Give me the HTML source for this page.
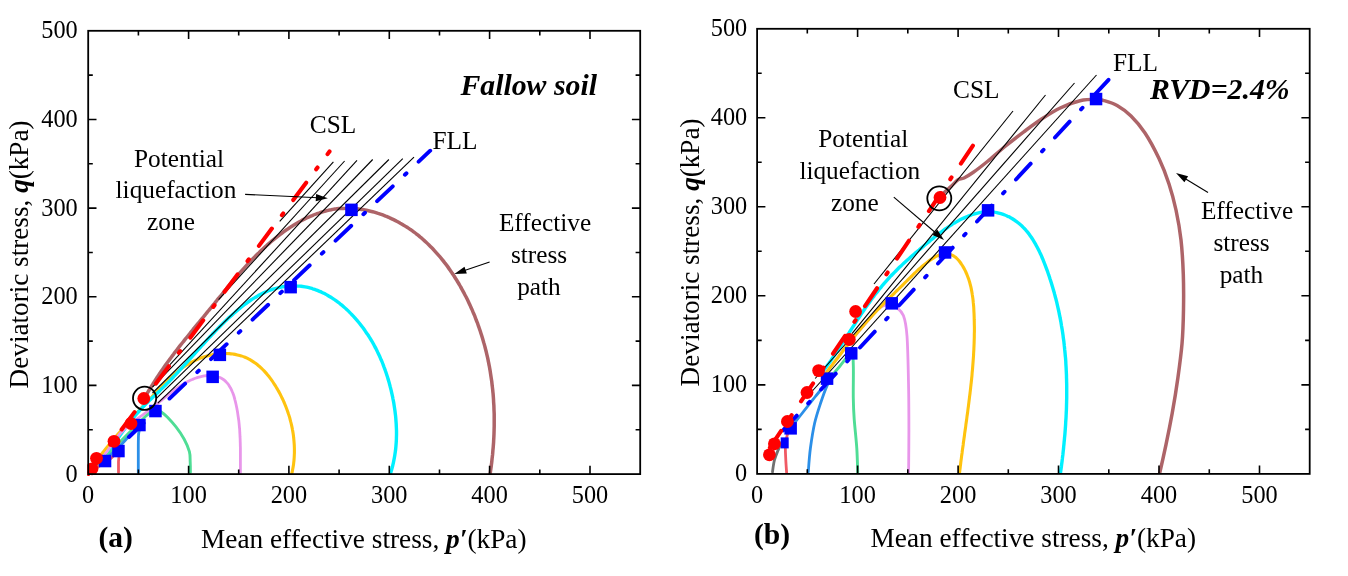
<!DOCTYPE html>
<html><head><meta charset="utf-8"><title>chart</title>
<style>html,body{margin:0;padding:0;background:#fff}svg{display:block;will-change:transform;font-family:"Liberation Serif",serif;fill:#000}</style>
</head><body>
<svg width="1348" height="576" viewBox="0 0 1348 576">
<rect width="1348" height="576" fill="#fff"/>
<defs><clipPath id="cl"><rect x="88.2" y="30.8" width="552" height="443.3"/></clipPath><clipPath id="cl2"><rect x="87.3" y="30.8" width="553" height="445.3"/></clipPath><clipPath id="cr"><rect x="757.1" y="28.75" width="552.6" height="445.15"/></clipPath></defs>
<g clip-path="url(#cl)">
<path d="M490.0,474.7C490.1,474.0 490.4,472.0 490.6,470.6C490.8,469.3 491.0,467.9 491.2,466.6C491.3,465.2 491.5,463.9 491.7,462.5C491.8,461.1 492.0,459.8 492.1,458.4C492.3,457.1 492.4,455.7 492.6,454.4C492.7,453.0 492.8,451.6 492.9,450.3C493.1,448.9 493.2,447.6 493.3,446.2C493.4,444.9 493.5,443.5 493.6,442.1C493.6,440.8 493.7,439.4 493.8,438.1C493.9,436.7 493.9,435.4 494.0,434.0C494.0,432.7 494.1,431.3 494.1,430.0C494.1,428.6 494.2,427.3 494.2,425.9C494.2,424.6 494.2,423.2 494.2,421.9C494.2,420.5 494.2,419.2 494.2,417.8C494.2,416.5 494.2,415.2 494.2,413.8C494.1,412.5 494.1,411.1 494.0,409.8C494.0,408.5 493.9,407.1 493.9,405.8C493.8,404.4 493.7,403.1 493.6,401.8C493.6,400.4 493.5,399.1 493.4,397.8C493.3,396.4 493.2,395.1 493.1,393.8C492.9,392.4 492.8,391.1 492.7,389.8C492.5,388.4 492.4,387.1 492.2,385.8C492.1,384.5 491.9,383.2 491.8,381.8C491.6,380.5 491.4,379.2 491.2,377.9C491.0,376.6 490.8,375.2 490.6,373.9C490.4,372.6 490.2,371.3 490.0,370.0C489.7,368.7 489.5,367.4 489.3,366.1C489.0,364.8 488.8,363.4 488.5,362.1C488.2,360.8 488.0,359.5 487.7,358.2C487.4,356.9 487.1,355.6 486.8,354.4C486.5,353.1 486.2,351.8 485.9,350.5C485.5,349.2 485.2,347.9 484.9,346.6C484.5,345.3 484.2,344.0 483.8,342.8C483.4,341.5 483.1,340.2 482.7,338.9C482.3,337.7 481.9,336.4 481.5,335.1C481.1,333.8 480.7,332.6 480.3,331.3C479.9,330.0 479.4,328.8 479.0,327.5C478.6,326.3 478.1,325.0 477.7,323.7C477.2,322.5 476.7,321.2 476.2,320.0C475.8,318.7 475.3,317.5 474.8,316.2C474.3,315.0 473.8,313.8 473.2,312.5C472.7,311.3 472.2,310.0 471.6,308.8C471.1,307.6 470.5,306.3 470.0,305.1C469.4,303.9 468.8,302.7 468.3,301.5C467.7,300.2 467.1,299.0 466.5,297.8C465.9,296.6 465.2,295.4 464.6,294.2C464.0,293.0 463.3,291.8 462.7,290.6C462.0,289.4 461.4,288.2 460.7,287.0C460.0,285.8 459.4,284.7 458.7,283.5C458.0,282.3 457.3,281.1 456.6,280.0C455.8,278.8 455.1,277.7 454.4,276.5C453.7,275.4 452.9,274.2 452.1,273.1C451.4,272.0 450.6,270.9 449.8,269.8C449.1,268.6 448.3,267.5 447.5,266.4C446.7,265.3 445.9,264.3 445.0,263.2C444.2,262.1 443.4,261.0 442.5,260.0C441.7,258.9 440.8,257.9 440.0,256.8C439.1,255.8 438.2,254.8 437.3,253.8C436.4,252.8 435.5,251.8 434.6,250.8C433.7,249.8 432.8,248.8 431.8,247.8C430.9,246.9 429.9,245.9 429.0,245.0C428.0,244.0 427.1,243.1 426.1,242.2C425.1,241.3 424.1,240.4 423.1,239.5C422.1,238.6 421.1,237.7 420.0,236.9C419.0,236.0 418.0,235.2 416.9,234.3C415.9,233.5 414.8,232.7 413.7,231.9C412.7,231.1 411.6,230.3 410.5,229.6C409.4,228.8 408.3,228.1 407.1,227.3C406.0,226.6 404.9,225.9 403.7,225.2C402.6,224.5 401.4,223.8 400.3,223.2C399.1,222.5 397.9,221.8 396.7,221.2C395.5,220.6 394.3,220.0 393.1,219.4C391.9,218.8 390.7,218.3 389.5,217.7C388.2,217.2 387.0,216.6 385.7,216.1C384.5,215.6 383.2,215.2 382.0,214.7C380.7,214.2 379.4,213.8 378.1,213.4C376.9,213.0 375.6,212.6 374.3,212.2C373.0,211.8 371.7,211.5 370.4,211.2C369.1,210.9 367.8,210.6 366.5,210.3C365.2,210.0 363.9,209.8 362.6,209.6C361.2,209.3 359.9,209.2 358.6,209.0C357.3,208.8 356.0,208.7 354.7,208.6C353.3,208.5 352.0,208.4 350.7,208.3C349.4,208.3 348.1,208.2 346.8,208.3C345.4,208.3 344.1,208.3 342.8,208.4C341.5,208.4 340.2,208.5 338.9,208.6C337.6,208.8 336.3,208.9 335.0,209.1C333.7,209.3 332.4,209.5 331.1,209.8C329.8,210.0 328.5,210.3 327.2,210.6C326.0,210.9 324.7,211.2 323.4,211.6C322.2,212.0 320.9,212.3 319.6,212.8C318.4,213.2 317.1,213.6 315.9,214.1C314.6,214.5 313.4,215.0 312.2,215.6C310.9,216.1 309.7,216.6 308.5,217.2C307.3,217.7 306.0,218.3 304.8,218.9C303.6,219.5 302.4,220.1 301.2,220.8C300.0,221.4 298.9,222.1 297.7,222.7C296.5,223.4 295.3,224.1 294.2,224.8C293.0,225.5 291.8,226.3 290.7,227.0C289.5,227.7 288.4,228.5 287.3,229.3C286.1,230.0 285.0,230.8 283.9,231.6C282.8,232.4 281.7,233.2 280.6,234.1C279.5,234.9 278.4,235.7 277.3,236.6C276.3,237.4 275.2,238.3 274.2,239.1C273.1,240.0 272.0,240.9 271.0,241.7C270.0,242.6 268.9,243.5 267.9,244.4C266.9,245.3 265.9,246.2 264.9,247.1C263.9,248.0 262.9,248.9 261.9,249.9C260.9,250.8 260.0,251.7 259.0,252.7C258.0,253.6 257.1,254.6 256.1,255.5C255.2,256.5 254.2,257.4 253.3,258.4C252.3,259.3 251.4,260.3 250.5,261.3C249.5,262.3 248.6,263.2 247.7,264.2C246.8,265.2 245.9,266.2 245.0,267.2C244.1,268.2 243.2,269.2 242.3,270.2C241.4,271.2 240.5,272.2 239.6,273.2C238.7,274.2 237.8,275.2 237.0,276.2C236.1,277.2 235.2,278.3 234.3,279.3C233.5,280.3 232.6,281.3 231.7,282.4C230.9,283.4 230.0,284.4 229.2,285.5C228.3,286.5 227.4,287.5 226.6,288.6C225.7,289.6 224.9,290.6 224.0,291.7C223.2,292.7 222.3,293.7 221.5,294.8C220.6,295.8 219.8,296.9 218.9,297.9C218.1,298.9 217.2,300.0 216.4,301.0C215.6,302.1 214.7,303.1 213.9,304.1C213.0,305.2 212.2,306.2 211.3,307.3C210.5,308.3 209.6,309.3 208.8,310.4C207.9,311.4 207.1,312.5 206.2,313.5C205.4,314.5 204.5,315.6 203.7,316.6C202.8,317.6 201.9,318.7 201.1,319.7C200.2,320.7 199.4,321.8 198.5,322.8C197.7,323.8 196.8,324.9 196.0,325.9C195.1,327.0 194.3,328.0 193.4,329.0C192.6,330.1 191.8,331.1 190.9,332.2C190.1,333.2 189.2,334.2 188.4,335.3C187.5,336.3 186.7,337.4 185.9,338.4C185.0,339.5 184.2,340.5 183.4,341.6C182.5,342.6 181.7,343.7 180.9,344.7C180.0,345.8 179.2,346.8 178.4,347.9C177.6,348.9 176.8,350.0 175.9,351.1C175.1,352.1 174.3,353.2 173.5,354.3C172.7,355.3 171.9,356.4 171.1,357.5C170.3,358.6 169.5,359.6 168.7,360.7C167.9,361.8 167.1,362.9 166.3,364.0C165.6,365.1 164.8,366.2 164.0,367.3C163.2,368.4 162.5,369.5 161.7,370.6C160.9,371.7 160.2,372.8 159.4,373.9C158.7,375.0 157.9,376.1 157.2,377.3C156.5,378.4 155.7,379.5 155.0,380.6C154.3,381.8 153.5,382.9 152.8,384.1C152.1,385.2 151.4,386.4 150.7,387.5C150.0,388.7 149.3,389.8 148.6,391.0C147.9,392.2 147.2,393.3 146.6,394.5C145.9,395.7 144.9,397.5 144.6,398.1" fill="none" stroke="#AD6468" stroke-width="3.5" stroke-linecap="round" stroke-linejoin="round" />
<path d="M291.9,473.2C292.1,472.5 292.5,470.6 292.7,469.3C293.0,467.9 293.2,466.6 293.4,465.3C293.6,464.0 293.7,462.6 293.9,461.3C294.0,460.0 294.1,458.7 294.2,457.3C294.3,456.0 294.3,454.7 294.4,453.3C294.4,452.0 294.4,450.6 294.4,449.3C294.4,448.0 294.3,446.6 294.3,445.3C294.2,444.0 294.1,442.6 294.0,441.3C293.9,439.9 293.8,438.6 293.6,437.3C293.5,435.9 293.3,434.6 293.1,433.3C292.9,431.9 292.7,430.6 292.4,429.3C292.2,428.0 291.9,426.6 291.6,425.3C291.3,424.0 291.0,422.7 290.6,421.4C290.3,420.1 289.9,418.7 289.6,417.4C289.2,416.1 288.8,414.8 288.3,413.5C287.9,412.2 287.5,411.0 287.0,409.7C286.5,408.4 286.0,407.1 285.5,405.8C285.0,404.6 284.5,403.3 283.9,402.0C283.4,400.8 282.8,399.5 282.2,398.3C281.6,397.0 281.0,395.8 280.4,394.6C279.7,393.4 279.1,392.1 278.4,390.9C277.7,389.7 277.1,388.5 276.3,387.3C275.6,386.1 274.9,385.0 274.1,383.8C273.4,382.7 272.6,381.5 271.8,380.4C271.0,379.3 270.2,378.2 269.4,377.1C268.5,376.0 267.7,375.0 266.8,373.9C265.9,372.9 265.0,371.9 264.1,370.9C263.2,370.0 262.2,369.0 261.3,368.1C260.3,367.2 259.3,366.3 258.3,365.5C257.3,364.6 256.2,363.8 255.2,363.1C254.1,362.3 253.0,361.6 251.9,360.9C250.8,360.2 249.7,359.5 248.5,358.9C247.4,358.3 246.2,357.8 245.0,357.3C243.8,356.8 242.5,356.3 241.3,355.9C240.0,355.5 238.7,355.2 237.4,354.9C236.1,354.6 234.8,354.3 233.5,354.1C232.1,353.9 230.8,353.7 229.5,353.6C228.1,353.5 226.7,353.5 225.4,353.5C224.0,353.4 222.7,353.5 221.3,353.5C219.9,353.6 218.6,353.7 217.2,353.9C215.9,354.1 214.5,354.3 213.2,354.5C211.8,354.8 210.5,355.1 209.2,355.4C207.9,355.7 206.6,356.1 205.2,356.5C203.9,356.9 202.6,357.3 201.4,357.8C200.1,358.3 198.8,358.8 197.6,359.3C196.3,359.9 195.1,360.5 193.8,361.1C192.6,361.7 191.4,362.3 190.2,363.0C189.0,363.6 187.8,364.3 186.7,365.0C185.5,365.8 184.4,366.5 183.2,367.3C182.1,368.0 181.0,368.8 179.9,369.6C178.8,370.5 177.8,371.3 176.7,372.2C175.7,373.0 174.7,373.9 173.7,374.8C172.7,375.7 171.7,376.6 170.7,377.5C169.7,378.4 168.7,379.3 167.8,380.3C166.8,381.2 165.9,382.2 164.9,383.1C164.0,384.1 163.1,385.0 162.1,386.0C161.2,387.0 160.3,388.0 159.4,388.9C158.4,389.9 157.5,390.9 156.6,391.9C155.7,392.9 154.7,393.8 153.8,394.8C152.9,395.8 152.0,396.8 151.0,397.8C150.1,398.7 149.2,399.7 148.3,400.7C147.4,401.7 146.4,402.7 145.5,403.7C144.6,404.7 143.7,405.6 142.7,406.6C141.8,407.6 140.9,408.6 140.0,409.6C139.1,410.6 138.2,411.6 137.2,412.6C136.3,413.6 135.4,414.6 134.5,415.6C133.6,416.6 132.7,417.6 131.8,418.6C130.9,419.6 130.0,420.6 129.1,421.6C128.1,422.6 127.2,423.6 126.3,424.6C125.4,425.6 124.6,426.6 123.7,427.6C122.8,428.6 121.9,429.7 121.0,430.7C120.1,431.7 119.2,432.7 118.3,433.7C117.4,434.8 116.6,435.8 115.7,436.8C114.8,437.9 113.9,438.9 113.1,439.9C112.2,441.0 111.3,442.0 110.5,443.0C109.6,444.1 108.8,445.1 107.9,446.2C107.1,447.2 106.2,448.3 105.4,449.3C104.5,450.4 103.7,451.4 102.8,452.5C102.0,453.6 101.2,454.6 100.3,455.7C99.5,456.8 98.7,457.8 97.9,458.9C97.1,460.0 96.3,461.1 95.5,462.2C94.6,463.2 93.8,464.3 93.1,465.4C92.3,466.5 91.5,467.6 90.7,468.7C89.9,469.8 88.7,471.5 88.4,472.0" fill="none" stroke="#FFC30F" stroke-width="3.1" stroke-linecap="round" stroke-linejoin="round" />
<path d="M390.2,474.5C390.4,473.9 391.0,471.9 391.4,470.6C391.8,469.2 392.1,467.9 392.5,466.6C392.8,465.2 393.1,463.9 393.4,462.6C393.7,461.2 394.0,459.9 394.2,458.6C394.5,457.3 394.7,455.9 394.9,454.6C395.1,453.2 395.3,451.9 395.5,450.6C395.6,449.2 395.8,447.9 395.9,446.6C396.0,445.2 396.1,443.9 396.2,442.6C396.3,441.2 396.4,439.9 396.4,438.5C396.4,437.2 396.5,435.9 396.5,434.5C396.5,433.2 396.5,431.9 396.5,430.5C396.4,429.2 396.4,427.9 396.3,426.5C396.3,425.2 396.2,423.8 396.1,422.5C396.0,421.2 395.9,419.8 395.8,418.5C395.7,417.2 395.6,415.8 395.4,414.5C395.2,413.2 395.1,411.8 394.9,410.5C394.7,409.2 394.5,407.8 394.3,406.5C394.1,405.2 393.9,403.9 393.7,402.5C393.4,401.2 393.2,399.9 392.9,398.6C392.7,397.2 392.4,395.9 392.1,394.6C391.8,393.3 391.5,391.9 391.2,390.6C390.9,389.3 390.6,388.0 390.2,386.7C389.9,385.4 389.5,384.1 389.2,382.8C388.8,381.5 388.4,380.1 388.0,378.9C387.7,377.6 387.2,376.3 386.8,375.0C386.4,373.7 386.0,372.4 385.5,371.1C385.1,369.8 384.6,368.6 384.1,367.3C383.7,366.0 383.2,364.8 382.7,363.5C382.2,362.2 381.7,361.0 381.1,359.8C380.6,358.5 380.1,357.3 379.5,356.0C378.9,354.8 378.4,353.6 377.8,352.4C377.2,351.1 376.6,349.9 376.0,348.7C375.3,347.5 374.7,346.3 374.1,345.2C373.4,344.0 372.7,342.8 372.1,341.6C371.4,340.5 370.7,339.3 370.0,338.1C369.3,337.0 368.5,335.9 367.8,334.7C367.1,333.6 366.3,332.5 365.5,331.4C364.8,330.3 364.0,329.2 363.2,328.1C362.4,327.0 361.6,325.9 360.7,324.8C359.9,323.8 359.0,322.7 358.2,321.7C357.3,320.6 356.4,319.6 355.5,318.6C354.6,317.6 353.7,316.5 352.8,315.6C351.8,314.6 350.9,313.6 349.9,312.6C349.0,311.7 348.0,310.7 347.0,309.8C346.0,308.8 345.0,307.9 343.9,307.0C342.9,306.1 341.9,305.2 340.8,304.4C339.8,303.5 338.7,302.7 337.6,301.9C336.5,301.1 335.4,300.3 334.3,299.5C333.2,298.7 332.0,298.0 330.9,297.3C329.8,296.6 328.6,295.9 327.4,295.2C326.3,294.6 325.1,293.9 323.9,293.3C322.7,292.7 321.5,292.2 320.3,291.6C319.1,291.1 317.8,290.6 316.6,290.1C315.3,289.7 314.1,289.2 312.8,288.8C311.6,288.4 310.3,288.1 309.0,287.7C307.7,287.4 306.4,287.1 305.1,286.9C303.8,286.7 302.5,286.5 301.1,286.3C299.8,286.2 298.5,286.0 297.1,286.0C295.8,285.9 294.4,285.9 293.0,285.9C291.7,285.9 290.3,286.0 289.0,286.1C287.6,286.2 286.2,286.3 284.9,286.5C283.5,286.7 282.2,286.9 280.9,287.2C279.5,287.4 278.2,287.7 276.9,288.1C275.6,288.4 274.3,288.8 273.0,289.2C271.7,289.6 270.5,290.0 269.2,290.5C268.0,291.0 266.7,291.5 265.5,292.0C264.3,292.6 263.0,293.1 261.8,293.7C260.6,294.3 259.4,295.0 258.3,295.6C257.1,296.3 255.9,296.9 254.8,297.6C253.6,298.3 252.5,299.1 251.3,299.8C250.2,300.5 249.1,301.3 248.0,302.1C246.9,302.9 245.8,303.7 244.7,304.5C243.6,305.3 242.5,306.1 241.4,307.0C240.4,307.8 239.3,308.7 238.3,309.6C237.2,310.4 236.2,311.3 235.2,312.2C234.1,313.1 233.1,314.0 232.1,314.9C231.1,315.8 230.1,316.7 229.1,317.6C228.1,318.5 227.1,319.5 226.1,320.4C225.2,321.3 224.2,322.3 223.2,323.2C222.3,324.1 221.3,325.1 220.4,326.0C219.4,327.0 218.5,327.9 217.5,328.9C216.6,329.9 215.7,330.8 214.7,331.8C213.8,332.8 212.9,333.7 212.0,334.7C211.0,335.7 210.1,336.7 209.2,337.6C208.3,338.6 207.4,339.6 206.5,340.6C205.6,341.6 204.7,342.6 203.8,343.6C202.9,344.6 201.9,345.6 201.0,346.6C200.1,347.6 199.2,348.6 198.3,349.6C197.4,350.6 196.5,351.6 195.6,352.6C194.7,353.6 193.8,354.6 192.9,355.6C192.0,356.6 191.1,357.6 190.2,358.6C189.3,359.6 188.4,360.6 187.5,361.6C186.6,362.6 185.7,363.6 184.8,364.6C183.9,365.6 183.0,366.6 182.1,367.6C181.2,368.6 180.3,369.6 179.3,370.6C178.4,371.6 177.5,372.6 176.6,373.6C175.7,374.6 174.8,375.6 173.8,376.5C172.9,377.5 172.0,378.5 171.0,379.5C170.1,380.4 169.2,381.4 168.2,382.4C167.3,383.3 166.3,384.3 165.4,385.2C164.4,386.2 163.5,387.1 162.5,388.1C161.5,389.0 160.6,389.9 159.6,390.9C158.6,391.8 157.6,392.7 156.7,393.6C155.7,394.6 154.7,395.5 153.7,396.4C152.8,397.3 151.8,398.2 150.8,399.2C149.8,400.1 148.9,401.0 147.9,402.0C147.0,402.9 146.0,403.9 145.1,404.8C144.1,405.8 143.2,406.7 142.3,407.7C141.3,408.7 140.4,409.7 139.5,410.7C138.6,411.6 137.7,412.7 136.9,413.7C136.0,414.7 135.1,415.7 134.3,416.7C133.4,417.8 132.6,418.8 131.7,419.9C130.9,420.9 130.0,422.0 129.2,423.0C128.4,424.1 127.6,425.1 126.8,426.2C125.9,427.3 125.1,428.4 124.3,429.5C123.5,430.5 122.7,431.6 121.9,432.7C121.2,433.8 120.4,434.9 119.6,436.0C118.8,437.1 118.0,438.2 117.2,439.3C116.4,440.4 115.7,441.5 114.9,442.6C114.1,443.7 113.3,444.9 112.6,446.0C111.8,447.1 111.0,448.2 110.2,449.3C109.4,450.4 108.7,451.5 107.9,452.6C107.1,453.7 106.3,454.8 105.5,455.9C104.7,457.0 103.9,458.1 103.1,459.2C102.3,460.3 101.5,461.4 100.7,462.4C99.9,463.5 99.1,464.6 98.3,465.6C97.5,466.7 96.6,467.8 95.8,468.8C95.0,469.9 93.7,471.4 93.3,472.0" fill="none" stroke="#00F0FF" stroke-width="3.4" stroke-linecap="round" stroke-linejoin="round" />
<path d="M240.4,473.2C240.4,472.5 240.4,470.4 240.4,469.0C240.4,467.6 240.4,466.2 240.4,464.9C240.4,463.5 240.4,462.1 240.4,460.8C240.4,459.4 240.4,458.0 240.4,456.7C240.4,455.3 240.4,454.0 240.4,452.7C240.4,451.3 240.4,450.0 240.4,448.6C240.4,447.3 240.3,446.0 240.3,444.6C240.3,443.3 240.2,442.0 240.2,440.7C240.2,439.3 240.1,438.0 240.0,436.7C240.0,435.4 239.9,434.0 239.8,432.7C239.8,431.4 239.7,430.1 239.6,428.7C239.4,427.4 239.3,426.1 239.2,424.7C239.1,423.4 238.9,422.0 238.8,420.7C238.6,419.4 238.4,418.0 238.2,416.7C238.0,415.3 237.8,413.9 237.6,412.6C237.4,411.2 237.1,409.8 236.9,408.5C236.6,407.1 236.3,405.7 236.0,404.3C235.7,402.9 235.4,401.5 235.0,400.1C234.7,398.7 234.3,397.4 233.9,396.0C233.4,394.7 233.0,393.3 232.4,392.0C231.9,390.8 231.4,389.5 230.7,388.3C230.1,387.1 229.4,386.0 228.7,384.9C227.9,383.9 227.1,382.9 226.2,382.0C225.4,381.1 224.4,380.2 223.4,379.5C222.3,378.8 221.2,378.2 220.0,377.6C218.9,377.1 217.6,376.7 216.4,376.3C215.1,376.0 213.8,375.8 212.4,375.7C211.1,375.5 209.8,375.5 208.4,375.5C207.0,375.6 205.7,375.7 204.3,375.9C202.9,376.2 201.5,376.5 200.2,376.8C198.8,377.1 197.4,377.6 196.1,378.0C194.8,378.4 193.4,379.0 192.2,379.5C190.9,380.0 189.6,380.6 188.4,381.2C187.2,381.8 186.0,382.4 184.8,383.1C183.6,383.8 182.4,384.5 181.3,385.2C180.1,385.9 179.0,386.6 177.9,387.4C176.8,388.1 175.7,388.9 174.6,389.7C173.6,390.5 172.5,391.3 171.4,392.2C170.4,393.0 169.3,393.8 168.3,394.7C167.2,395.5 166.2,396.4 165.2,397.2C164.1,398.1 163.1,399.0 162.1,399.8C161.0,400.7 160.0,401.6 159.0,402.4C157.9,403.3 156.9,404.2 155.9,405.0C154.8,405.9 153.8,406.7 152.7,407.6C151.6,408.4 150.5,409.3 149.5,410.1C148.4,410.9 147.3,411.7 146.2,412.5C145.1,413.3 143.9,414.1 142.8,414.9C141.7,415.6 140.6,416.4 139.5,417.2C138.3,418.0 137.2,418.8 136.1,419.6C135.0,420.4 133.9,421.2 132.8,422.0C131.8,422.8 130.7,423.7 129.6,424.5C128.6,425.4 127.6,426.2 126.6,427.1C125.6,428.0 124.6,428.9 123.6,429.9C122.7,430.8 121.8,431.8 120.9,432.8C120.0,433.8 119.1,434.8 118.3,435.9C117.4,436.9 116.6,438.0 115.8,439.1C115.0,440.2 114.2,441.3 113.4,442.4C112.6,443.5 111.8,444.6 111.0,445.7C110.3,446.8 109.5,447.9 108.7,449.1C107.9,450.2 107.2,451.3 106.4,452.4C105.6,453.5 104.8,454.6 104.0,455.7C103.2,456.9 102.4,458.0 101.6,459.1C100.8,460.2 100.0,461.3 99.2,462.3C98.4,463.4 97.6,464.5 96.8,465.6C96.0,466.7 95.1,467.7 94.3,468.8C93.5,469.9 92.2,471.4 91.8,472.0" fill="none" stroke="#E896EA" stroke-width="2.8" stroke-linecap="round" stroke-linejoin="round" />
<path d="M190.4,472.5C190.4,470.8 190.4,465.5 190.2,462.0C190.0,458.5 190.4,455.5 189.4,451.7C188.4,447.9 186.5,443.4 184.2,439.2C181.9,435.0 178.6,430.3 175.8,426.7C173.0,423.1 169.9,419.8 167.5,417.3C165.1,414.9 163.3,413.2 161.3,412.0C159.3,410.8 158.0,409.3 155.4,410.0C152.8,410.7 149.6,413.0 146.0,416.0C142.4,419.0 138.3,423.7 134.0,428.0C129.7,432.3 124.7,437.2 120.0,442.0C115.3,446.8 110.3,452.7 106.0,457.0C101.7,461.3 96.0,466.2 94.0,468.0" fill="none" stroke="#4FDD95" stroke-width="2.9" stroke-linecap="round" stroke-linejoin="round" />
<path d="M138.3,472.5C138.3,468.8 138.3,456.2 138.3,450.0C138.3,443.8 138.3,439.0 138.5,435.0C138.7,431.0 140.6,426.3 139.5,426.0C138.4,425.7 135.6,429.3 132.0,433.0C128.4,436.7 123.0,443.2 118.0,448.0C113.0,452.8 104.7,459.7 102.0,462.0" fill="none" stroke="#2B8FE8" stroke-width="2.8" stroke-linecap="round" stroke-linejoin="round" />
<path d="M118.5,472.5C118.5,470.8 118.5,465.4 118.5,462.0C118.5,458.6 120.1,452.5 118.7,452.0C117.3,451.5 113.5,456.5 110.0,459.0C106.5,461.5 100.0,465.7 98.0,467.0" fill="none" stroke="#F05A64" stroke-width="2.8" stroke-linecap="round" stroke-linejoin="round" />
</g>
<path d="M333.4,161.9L279.7,221.3" stroke="#000" stroke-width="1.1" fill="none"/>
<path d="M344.6,161.0L218.6,299.7" stroke="#000" stroke-width="1.1" fill="none"/>
<path d="M357.0,160.4L170.0,364.7" stroke="#000" stroke-width="1.1" fill="none"/>
<path d="M372.7,159.5L152.5,387.2" stroke="#000" stroke-width="1.1" fill="none"/>
<path d="M388.9,159.5L152.5,393.0" stroke="#000" stroke-width="1.1" fill="none"/>
<path d="M402.8,158.6L156.4,398.3" stroke="#000" stroke-width="1.1" fill="none"/>
<path d="M414.0,157.2L157.8,403.2" stroke="#000" stroke-width="1.1" fill="none"/>
<g clip-path="url(#cl2)">
<path d="M88.2,474.1L329.5,151.5" stroke="#FF0000" stroke-width="4.1" stroke-linecap="round" fill="none" stroke-dasharray="21.60 16.75 2.2 16.75" stroke-dashoffset="1.50"/>
</g>
<path d="M129.0,437.0L430.2,150.7" stroke="#0000FF" stroke-width="3.9" stroke-linecap="round" fill="none" stroke-dasharray="21.60 16.75 2.2 16.75" stroke-dashoffset="1.50"/>
<rect x="345.2" y="203.6" width="12.5" height="12.5" fill="#0000FF"/>
<rect x="284.4" y="280.9" width="12.5" height="12.5" fill="#0000FF"/>
<rect x="213.6" y="348.6" width="12.5" height="12.5" fill="#0000FF"/>
<rect x="206.4" y="370.6" width="12.5" height="12.5" fill="#0000FF"/>
<rect x="149.2" y="404.8" width="12.5" height="12.5" fill="#0000FF"/>
<rect x="133.2" y="418.8" width="12.5" height="12.5" fill="#0000FF"/>
<rect x="112.2" y="444.8" width="12.5" height="12.5" fill="#0000FF"/>
<rect x="98.8" y="454.8" width="12.5" height="12.5" fill="#0000FF"/>
<circle cx="143.8" cy="398.5" r="6.4" fill="#FF0000"/>
<circle cx="131.0" cy="423.5" r="6.4" fill="#FF0000"/>
<circle cx="114.0" cy="441.3" r="6.4" fill="#FF0000"/>
<circle cx="96.5" cy="458.3" r="6.4" fill="#FF0000"/>
<g clip-path="url(#cl2)"><circle cx="92" cy="468.8" r="6.4" fill="#FF0000"/></g>
<circle cx="144.6" cy="398.3" r="11.6" fill="none" stroke="#000" stroke-width="1.8"/>
<path d="M245.1,194.4L317.9,197.8" stroke="#000" stroke-width="1.1" fill="none"/>
<path d="M327.9,198.3L315.7,201.3L316.1,194.1Z" fill="#000"/>
<path d="M489.6,261.9L463.8,270.8" stroke="#000" stroke-width="1.1" fill="none"/>
<path d="M454.3,274.0L464.5,266.7L466.8,273.5Z" fill="#000"/>
<rect x="88.2" y="30.8" width="552.0" height="443.3" fill="none" stroke="#000" stroke-width="1.8"/>
<path d="M138.4,474.1v-4.6M138.4,30.8v4.6M188.6,474.1v-8.3M188.6,30.8v8.3M238.7,474.1v-4.6M238.7,30.8v4.6M288.9,474.1v-8.3M288.9,30.8v8.3M339.1,474.1v-4.6M339.1,30.8v4.6M389.3,474.1v-8.3M389.3,30.8v8.3M439.5,474.1v-4.6M439.5,30.8v4.6M489.6,474.1v-8.3M489.6,30.8v8.3M539.8,474.1v-4.6M539.8,30.8v4.6M590.0,474.1v-8.3M590.0,30.8v8.3M88.2,429.8h4.6M640.2,429.8h-4.6M88.2,385.4h8.3M640.2,385.4h-8.3M88.2,341.1h4.6M640.2,341.1h-4.6M88.2,296.8h8.3M640.2,296.8h-8.3M88.2,252.5h4.6M640.2,252.5h-4.6M88.2,208.1h8.3M640.2,208.1h-8.3M88.2,163.8h4.6M640.2,163.8h-4.6M88.2,119.5h8.3M640.2,119.5h-8.3M88.2,75.1h4.6M640.2,75.1h-4.6" stroke="#000" stroke-width="1.6" fill="none"/>
<text x="88.2" y="503.2" text-anchor="middle" font-size="24.3">0</text>
<text x="77.7" y="481.6" text-anchor="end" font-size="24.3">0</text>
<text x="188.6" y="503.2" text-anchor="middle" font-size="24.3">100</text>
<text x="77.7" y="392.9" text-anchor="end" font-size="24.3">100</text>
<text x="288.9" y="503.2" text-anchor="middle" font-size="24.3">200</text>
<text x="77.7" y="304.3" text-anchor="end" font-size="24.3">200</text>
<text x="389.3" y="503.2" text-anchor="middle" font-size="24.3">300</text>
<text x="77.7" y="215.6" text-anchor="end" font-size="24.3">300</text>
<text x="489.6" y="503.2" text-anchor="middle" font-size="24.3">400</text>
<text x="77.7" y="127.0" text-anchor="end" font-size="24.3">400</text>
<text x="590.0" y="503.2" text-anchor="middle" font-size="24.3">500</text>
<text x="77.7" y="38.3" text-anchor="end" font-size="24.3">500</text>
<text x="333.0" y="133.3" text-anchor="middle" font-size="25.3" >CSL</text>
<text x="455.0" y="149.2" text-anchor="middle" font-size="25.3" >FLL</text>
<text x="179.0" y="166.5" text-anchor="middle" font-size="25.3" >Potential</text>
<text x="176.0" y="198.0" text-anchor="middle" font-size="25.3" >liquefaction</text>
<text x="171.0" y="229.5" text-anchor="middle" font-size="25.3" >zone</text>
<text x="545.0" y="231.0" text-anchor="middle" font-size="25.3" >Effective</text>
<text x="539.0" y="263.0" text-anchor="middle" font-size="25.3" >stress</text>
<text x="539.0" y="295.0" text-anchor="middle" font-size="25.3" >path</text>
<text x="528.7" y="94.6" text-anchor="middle" font-size="29.8" font-weight="bold" font-style="italic">Fallow soil</text>
<text x="115.7" y="547.3" text-anchor="middle" font-size="29.5" font-weight="bold">(a)</text>
<text x="363.8" y="548.0" text-anchor="middle" font-size="27.3" >Mean effective stress, <tspan font-weight="bold" font-style="italic">p′</tspan>(kPa)</text>
<text transform="translate(27.7,254.4) rotate(-90)" text-anchor="middle" font-size="27.2">Deviatoric stress, <tspan font-weight="bold" font-style="italic">q</tspan>(kPa)</text>
<g clip-path="url(#cr)">
<path d="M1159.7,473.0C1160.8,468.3 1163.9,454.6 1166.0,444.6C1168.1,434.7 1170.2,424.3 1172.2,413.3C1174.2,402.3 1176.2,390.2 1177.8,378.6C1179.4,367.0 1181.0,355.5 1182.0,343.9C1183.0,332.3 1183.3,320.8 1183.5,309.2C1183.7,297.6 1183.7,285.9 1183.3,274.4C1182.9,262.9 1182.2,250.7 1181.0,240.0C1179.8,229.3 1178.0,219.3 1176.0,210.0C1174.0,200.7 1171.8,192.6 1169.0,184.0C1166.2,175.4 1163.0,167.1 1159.0,158.6C1155.0,150.1 1149.7,140.1 1145.0,133.0C1140.3,125.9 1135.7,120.6 1131.0,116.0C1126.3,111.4 1121.6,108.2 1117.1,105.6C1112.6,103.0 1107.6,101.6 1104.1,100.6C1100.6,99.5 1100.3,99.3 1096.3,99.3C1092.3,99.3 1086.0,99.3 1080.0,100.8C1074.0,102.2 1066.5,105.0 1060.2,108.0C1053.9,111.0 1048.1,114.8 1042.0,118.8C1035.9,122.8 1029.9,127.3 1023.8,131.8C1017.7,136.3 1011.7,141.1 1005.6,146.0C999.5,150.9 992.8,157.1 987.4,161.5C982.0,165.9 976.9,169.8 973.0,172.5C969.1,175.2 966.5,176.8 964.0,178.0C961.5,179.2 960.1,178.5 958.0,179.8C955.9,181.1 953.9,183.8 951.5,186.0C949.1,188.2 945.5,191.2 943.4,193.3C941.3,195.4 939.8,197.6 939.1,198.5" fill="none" stroke="#AD6468" stroke-width="3.5" stroke-linecap="round" stroke-linejoin="round" />
<path d="M1060.3,474.6C1060.3,473.9 1060.6,471.9 1060.8,470.5C1061.0,469.2 1061.2,467.8 1061.4,466.5C1061.5,465.2 1061.7,463.8 1061.9,462.5C1062.1,461.1 1062.2,459.8 1062.4,458.4C1062.5,457.1 1062.7,455.7 1062.9,454.4C1063.0,453.1 1063.2,451.7 1063.3,450.4C1063.5,449.0 1063.6,447.7 1063.7,446.3C1063.9,445.0 1064.0,443.6 1064.1,442.3C1064.3,440.9 1064.4,439.6 1064.5,438.2C1064.6,436.9 1064.8,435.6 1064.9,434.2C1065.0,432.9 1065.1,431.5 1065.2,430.2C1065.3,428.8 1065.4,427.5 1065.5,426.1C1065.6,424.8 1065.7,423.4 1065.7,422.1C1065.8,420.8 1065.9,419.4 1066.0,418.1C1066.1,416.7 1066.1,415.4 1066.2,414.0C1066.2,412.7 1066.3,411.3 1066.4,410.0C1066.4,408.7 1066.5,407.3 1066.5,406.0C1066.5,404.6 1066.6,403.3 1066.6,401.9C1066.6,400.6 1066.7,399.3 1066.7,397.9C1066.7,396.6 1066.7,395.2 1066.7,393.9C1066.7,392.5 1066.7,391.2 1066.7,389.9C1066.7,388.5 1066.7,387.2 1066.7,385.8C1066.7,384.5 1066.7,383.2 1066.6,381.8C1066.6,380.5 1066.6,379.1 1066.5,377.8C1066.5,376.5 1066.5,375.1 1066.4,373.8C1066.3,372.4 1066.3,371.1 1066.2,369.8C1066.2,368.4 1066.1,367.1 1066.0,365.8C1065.9,364.4 1065.8,363.1 1065.8,361.7C1065.7,360.4 1065.6,359.1 1065.5,357.7C1065.3,356.4 1065.2,355.1 1065.1,353.7C1065.0,352.4 1064.9,351.1 1064.7,349.7C1064.6,348.4 1064.5,347.1 1064.3,345.7C1064.2,344.4 1064.0,343.1 1063.9,341.8C1063.7,340.4 1063.5,339.1 1063.3,337.8C1063.2,336.4 1063.0,335.1 1062.8,333.8C1062.6,332.5 1062.4,331.1 1062.2,329.8C1062.0,328.5 1061.8,327.2 1061.5,325.8C1061.3,324.5 1061.1,323.2 1060.9,321.9C1060.6,320.6 1060.4,319.2 1060.1,317.9C1059.9,316.6 1059.6,315.3 1059.3,314.0C1059.1,312.6 1058.8,311.3 1058.5,310.0C1058.2,308.7 1057.9,307.4 1057.6,306.1C1057.3,304.7 1057.0,303.4 1056.7,302.1C1056.3,300.8 1056.0,299.5 1055.7,298.2C1055.3,296.9 1055.0,295.5 1054.6,294.2C1054.3,292.9 1053.9,291.6 1053.5,290.3C1053.2,289.0 1052.8,287.7 1052.4,286.4C1052.0,285.1 1051.6,283.8 1051.2,282.5C1050.8,281.2 1050.4,279.9 1049.9,278.6C1049.5,277.3 1049.1,276.0 1048.6,274.7C1048.2,273.4 1047.7,272.1 1047.3,270.8C1046.8,269.5 1046.3,268.2 1045.8,266.9C1045.3,265.6 1044.8,264.3 1044.3,263.0C1043.8,261.7 1043.3,260.5 1042.8,259.2C1042.3,257.9 1041.7,256.6 1041.2,255.4C1040.6,254.1 1040.0,252.9 1039.4,251.6C1038.8,250.4 1038.2,249.2 1037.6,248.0C1037.0,246.8 1036.3,245.6 1035.7,244.4C1035.0,243.2 1034.3,242.0 1033.6,240.9C1032.9,239.8 1032.2,238.6 1031.5,237.5C1030.7,236.4 1030.0,235.4 1029.2,234.3C1028.4,233.2 1027.6,232.2 1026.7,231.2C1025.9,230.2 1025.0,229.2 1024.1,228.3C1023.2,227.4 1022.3,226.4 1021.4,225.6C1020.4,224.7 1019.4,223.8 1018.4,223.0C1017.4,222.2 1016.4,221.4 1015.3,220.7C1014.2,219.9 1013.1,219.2 1012.0,218.5C1010.9,217.9 1009.7,217.2 1008.5,216.6C1007.3,216.1 1006.1,215.5 1004.8,215.0C1003.5,214.5 1002.2,214.1 1000.9,213.7C999.6,213.3 998.2,212.9 996.8,212.6C995.5,212.3 994.1,212.1 992.7,211.9C991.4,211.8 990.0,211.7 988.6,211.7C987.2,211.7 985.9,211.7 984.5,211.9C983.2,212.0 981.8,212.2 980.5,212.4C979.2,212.7 977.9,213.0 976.6,213.3C975.3,213.7 974.0,214.1 972.7,214.5C971.4,214.9 970.2,215.4 968.9,215.8C967.7,216.3 966.5,216.8 965.2,217.4C964.0,217.9 962.8,218.5 961.6,219.1C960.4,219.7 959.2,220.3 958.1,220.9C956.9,221.6 955.7,222.3 954.6,222.9C953.4,223.6 952.3,224.3 951.2,225.1C950.0,225.8 948.9,226.5 947.8,227.3C946.7,228.1 945.6,228.8 944.4,229.6C943.3,230.4 942.3,231.2 941.2,232.0C940.1,232.9 939.0,233.7 937.9,234.5C936.8,235.3 935.8,236.2 934.7,237.0C933.6,237.9 932.6,238.8 931.5,239.6C930.5,240.5 929.4,241.3 928.4,242.2C927.3,243.1 926.3,243.9 925.2,244.8C924.2,245.7 923.1,246.5 922.1,247.4C921.0,248.3 920.0,249.1 919.0,250.0C917.9,250.9 916.9,251.8 915.9,252.6C914.9,253.5 913.8,254.4 912.8,255.3C911.8,256.2 910.8,257.1 909.8,257.9C908.8,258.8 907.8,259.7 906.8,260.6C905.8,261.5 904.8,262.4 903.8,263.3C902.8,264.2 901.8,265.2 900.9,266.1C899.9,267.0 898.9,267.9 898.0,268.8C897.0,269.8 896.1,270.7 895.1,271.7C894.2,272.6 893.3,273.6 892.3,274.5C891.4,275.5 890.5,276.4 889.6,277.4C888.7,278.4 887.8,279.4 886.9,280.4C886.0,281.4 885.1,282.4 884.2,283.4C883.4,284.4 882.5,285.4 881.6,286.4C880.8,287.5 879.9,288.5 879.1,289.5C878.3,290.6 877.4,291.6 876.6,292.7C875.8,293.7 875.0,294.8 874.1,295.9C873.3,297.0 872.5,298.0 871.7,299.1C870.9,300.2 870.2,301.3 869.4,302.4C868.6,303.5 867.8,304.6 867.0,305.7C866.3,306.8 865.5,307.9 864.7,309.0C864.0,310.1 863.2,311.3 862.4,312.4C861.7,313.5 860.9,314.6 860.2,315.8C859.4,316.9 858.7,318.0 857.9,319.2C857.2,320.3 856.5,321.4 855.7,322.6C855.0,323.7 854.2,324.9 853.5,326.0C852.8,327.1 852.0,328.3 851.3,329.4C850.6,330.6 849.8,331.7 849.1,332.8C848.4,334.0 847.6,335.1 846.9,336.3C846.2,337.4 845.5,338.6 844.7,339.7C844.0,340.8 843.2,342.0 842.5,343.1C841.8,344.2 841.0,345.4 840.3,346.5C839.6,347.6 838.8,348.8 838.1,349.9C837.3,351.0 836.6,352.1 835.8,353.2C835.1,354.4 834.3,355.5 833.6,356.6C832.8,357.7 832.0,358.8 831.3,359.9C830.5,361.0 829.7,362.1 829.0,363.2C828.2,364.3 827.4,365.3 826.6,366.4C825.8,367.5 825.0,368.6 824.2,369.6C823.4,370.7 822.2,372.3 821.8,372.8" fill="none" stroke="#00F0FF" stroke-width="3.4" stroke-linecap="round" stroke-linejoin="round" />
<path d="M908.6,473.0C908.6,465.8 908.9,444.2 908.9,430.0C908.9,415.8 908.9,403.7 908.6,388.0C908.3,372.3 907.9,348.1 907.0,336.0C906.1,323.9 905.3,320.3 903.4,315.4C901.5,310.5 897.6,308.4 895.6,306.6C893.6,304.8 894.1,304.2 891.5,304.4C888.9,304.5 883.6,305.2 880.0,307.5C876.4,309.8 875.0,312.2 870.0,318.0C865.0,323.8 856.3,334.2 850.0,342.0C843.7,349.8 835.8,360.0 832.0,365.0C828.2,370.0 827.8,370.8 827.0,372.0" fill="none" stroke="#E896EA" stroke-width="2.8" stroke-linecap="round" stroke-linejoin="round" />
<path d="M959.5,473.0C959.6,472.3 959.8,470.3 960.0,469.0C960.2,467.6 960.3,466.2 960.5,464.9C960.7,463.5 960.8,462.2 961.0,460.8C961.2,459.5 961.4,458.1 961.5,456.8C961.7,455.4 961.9,454.1 962.1,452.7C962.2,451.4 962.4,450.0 962.6,448.7C962.8,447.3 963.0,446.0 963.2,444.7C963.3,443.3 963.5,442.0 963.7,440.6C963.9,439.3 964.1,437.9 964.3,436.6C964.5,435.2 964.6,433.9 964.8,432.6C965.0,431.2 965.2,429.9 965.4,428.5C965.6,427.2 965.8,425.9 965.9,424.5C966.1,423.2 966.3,421.8 966.5,420.5C966.7,419.2 966.9,417.8 967.0,416.5C967.2,415.1 967.4,413.8 967.6,412.5C967.8,411.1 967.9,409.8 968.1,408.4C968.3,407.1 968.5,405.8 968.6,404.4C968.8,403.1 969.0,401.7 969.1,400.4C969.3,399.1 969.5,397.7 969.6,396.4C969.8,395.0 970.0,393.7 970.1,392.4C970.3,391.0 970.4,389.7 970.6,388.3C970.7,387.0 970.9,385.7 971.0,384.3C971.2,383.0 971.3,381.6 971.5,380.3C971.6,378.9 971.7,377.6 971.9,376.3C972.0,374.9 972.1,373.6 972.2,372.2C972.4,370.9 972.5,369.5 972.6,368.2C972.7,366.8 972.8,365.5 972.9,364.2C973.0,362.8 973.1,361.5 973.2,360.1C973.3,358.8 973.4,357.4 973.5,356.1C973.6,354.7 973.6,353.4 973.7,352.0C973.8,350.7 973.9,349.3 973.9,348.0C974.0,346.6 974.0,345.2 974.1,343.9C974.1,342.5 974.2,341.2 974.2,339.8C974.3,338.5 974.3,337.1 974.3,335.7C974.3,334.4 974.3,333.0 974.4,331.7C974.4,330.3 974.4,328.9 974.4,327.6C974.4,326.2 974.3,324.8 974.3,323.5C974.3,322.1 974.3,320.7 974.2,319.4C974.2,318.0 974.2,316.6 974.1,315.3C974.1,313.9 974.0,312.5 973.9,311.1C973.9,309.8 973.8,308.4 973.7,307.0C973.6,305.7 973.5,304.3 973.3,302.9C973.2,301.5 973.1,300.2 972.9,298.8C972.7,297.5 972.6,296.1 972.3,294.7C972.1,293.4 971.9,292.0 971.6,290.7C971.4,289.4 971.1,288.0 970.8,286.7C970.5,285.4 970.1,284.1 969.8,282.8C969.4,281.5 969.0,280.2 968.6,278.9C968.1,277.6 967.6,276.3 967.1,275.0C966.6,273.8 966.1,272.5 965.5,271.3C964.9,270.1 964.3,268.8 963.6,267.6C962.9,266.4 962.2,265.2 961.4,264.1C960.7,262.9 959.9,261.8 959.0,260.7C958.1,259.7 957.2,258.7 956.2,257.8C955.2,257.0 954.2,256.2 953.1,255.6C952.0,255.0 950.9,254.5 949.7,254.1C948.5,253.8 947.3,253.6 946.1,253.6C944.9,253.6 943.6,253.7 942.4,254.0C941.1,254.3 939.9,254.7 938.6,255.2C937.3,255.7 936.1,256.4 934.8,257.1C933.6,257.8 932.4,258.6 931.2,259.4C930.0,260.2 928.8,261.1 927.6,262.0C926.4,262.9 925.3,263.8 924.2,264.7C923.1,265.6 922.0,266.5 921.0,267.4C919.9,268.3 918.9,269.3 917.9,270.2C916.9,271.1 915.9,272.0 914.9,273.0C913.9,273.9 912.9,274.9 912.0,275.8C911.0,276.8 910.0,277.7 909.1,278.6C908.1,279.6 907.2,280.5 906.2,281.5C905.3,282.4 904.3,283.4 903.4,284.3C902.4,285.3 901.4,286.2 900.5,287.1C899.5,288.1 898.5,289.0 897.6,290.0C896.6,290.9 895.7,291.9 894.7,292.8C893.7,293.8 892.8,294.7 891.8,295.6C890.8,296.6 889.9,297.5 888.9,298.5C887.9,299.4 887.0,300.4 886.0,301.4C885.1,302.3 884.1,303.3 883.2,304.2C882.2,305.2 881.3,306.2 880.3,307.1C879.4,308.1 878.4,309.1 877.5,310.0C876.5,311.0 875.6,312.0 874.7,313.0C873.7,314.0 872.8,315.0 871.9,316.0C871.0,317.0 870.1,318.0 869.2,319.0C868.3,320.0 867.4,321.0 866.5,322.0C865.6,323.0 864.7,324.0 863.8,325.1C862.9,326.1 862.0,327.1 861.2,328.2C860.3,329.2 859.4,330.3 858.5,331.3C857.7,332.3 856.8,333.4 856.0,334.4C855.1,335.5 854.2,336.6 853.4,337.6C852.5,338.7 851.7,339.7 850.9,340.8C850.0,341.9 849.2,342.9 848.3,344.0C847.5,345.1 846.7,346.1 845.8,347.2C845.0,348.3 844.2,349.4 843.3,350.4C842.5,351.5 841.7,352.6 840.8,353.7C840.0,354.7 839.2,355.8 838.4,356.9C837.5,358.0 836.7,359.0 835.9,360.1C835.1,361.2 834.2,362.3 833.4,363.3C832.6,364.4 831.8,365.5 830.9,366.6C830.1,367.6 829.3,368.7 828.5,369.8C827.6,370.8 826.4,372.4 826.0,373.0" fill="none" stroke="#FFC30F" stroke-width="3.1" stroke-linecap="round" stroke-linejoin="round" />
<path d="M857.8,474.5C857.6,470.1 857.4,457.5 856.8,448.3C856.2,439.1 854.8,427.5 854.2,419.2C853.6,410.9 853.4,407.3 853.3,398.3C853.1,389.3 853.6,372.5 853.3,365.0C853.0,357.5 853.5,353.1 851.2,353.3C849.0,353.5 843.5,361.9 840.0,366.0C836.5,370.1 831.7,376.0 830.0,378.0" fill="none" stroke="#4FDD95" stroke-width="2.9" stroke-linecap="round" stroke-linejoin="round" />
<path d="M808.3,472.0C808.6,468.1 809.3,456.4 810.4,448.3C811.5,440.2 812.9,430.9 814.6,423.3C816.3,415.7 818.7,408.8 820.8,402.5C822.9,396.2 824.9,390.3 827.0,385.8C829.1,381.3 832.2,377.1 833.3,375.4" fill="none" stroke="#2B8FE8" stroke-width="2.8" stroke-linecap="round" stroke-linejoin="round" />
<path d="M829.0,380.0C826.7,382.8 819.8,391.0 815.0,397.0C810.2,403.0 804.2,410.7 800.0,416.0C795.8,421.3 791.7,426.8 790.0,429.0" fill="none" stroke="#2B8FE8" stroke-width="2.8" stroke-linecap="round" stroke-linejoin="round" />
<path d="M786.7,474.0C786.6,471.7 786.0,464.7 785.8,460.0C785.6,455.3 785.2,450.0 785.4,446.0C785.6,442.0 786.2,439.0 787.0,436.0C787.8,433.0 789.5,429.3 790.0,428.0" fill="none" stroke="#F05A64" stroke-width="2.8" stroke-linecap="round" stroke-linejoin="round" />
<path d="M772.5,472.0C772.8,470.0 773.4,464.0 774.5,460.0C775.6,456.0 777.6,451.3 779.0,448.0C780.4,444.7 782.3,441.3 783.0,440.0" fill="none" stroke="#707070" stroke-width="2.8" stroke-linecap="round" stroke-linejoin="round" />
</g>
<path d="M1013.0,111.0L874.0,284.0" stroke="#000" stroke-width="1.1" fill="none"/>
<path d="M1045.5,95.0L852.0,333.6" stroke="#000" stroke-width="1.1" fill="none"/>
<path d="M1074.5,83.0L815.2,378.5" stroke="#000" stroke-width="1.1" fill="none"/>
<path d="M1096.5,75.0L806.5,397.5" stroke="#000" stroke-width="1.1" fill="none"/>
<path d="M783.1,430.4L1108.5,79.8" stroke="#0000FF" stroke-width="3.9" stroke-linecap="round" fill="none" stroke-dasharray="21.60 16.75 2.2 16.75" stroke-dashoffset="1.50"/>
<rect x="1089.8" y="92.8" width="12.5" height="12.5" fill="#0000FF"/>
<rect x="981.8" y="204.1" width="12.5" height="12.5" fill="#0000FF"/>
<rect x="938.8" y="246.2" width="12.5" height="12.5" fill="#0000FF"/>
<rect x="885.5" y="297.1" width="12.5" height="12.5" fill="#0000FF"/>
<rect x="845.0" y="347.1" width="12.5" height="12.5" fill="#0000FF"/>
<rect x="820.8" y="372.4" width="12.5" height="12.5" fill="#0000FF"/>
<rect x="784.4" y="422.1" width="12.5" height="12.5" fill="#0000FF"/>
<rect x="780.7" y="437.4" width="8" height="11" fill="#0000FF"/>
<path d="M769.9,447.6L973.0,145.5" stroke="#FF0000" stroke-width="4.1" stroke-linecap="round" fill="none" stroke-dasharray="21.60 16.75 2.2 16.75" stroke-dashoffset="1.50"/>
<circle cx="940.0" cy="197.5" r="6.4" fill="#FF0000"/>
<circle cx="855.6" cy="311.5" r="6.4" fill="#FF0000"/>
<circle cx="849.3" cy="339.5" r="6.4" fill="#FF0000"/>
<circle cx="818.6" cy="370.6" r="6.4" fill="#FF0000"/>
<circle cx="807.0" cy="392.5" r="6.4" fill="#FF0000"/>
<circle cx="787.4" cy="421.5" r="6.4" fill="#FF0000"/>
<circle cx="774.4" cy="443.8" r="6.4" fill="#FF0000"/>
<circle cx="769.4" cy="454.8" r="6.4" fill="#FF0000"/>
<circle cx="939.3" cy="198.3" r="12" fill="none" stroke="#000" stroke-width="1.8"/>
<path d="M893.8,197.1L936.4,233.5" stroke="#000" stroke-width="1.1" fill="none"/>
<path d="M944.0,240.0L932.5,234.9L937.2,229.5Z" fill="#000"/>
<path d="M1208.0,192.5L1184.5,178.2" stroke="#000" stroke-width="1.1" fill="none"/>
<path d="M1176.0,173.0L1188.1,176.2L1184.4,182.3Z" fill="#000"/>
<rect x="757.1" y="28.8" width="552.6" height="445.1" fill="none" stroke="#000" stroke-width="1.8"/>
<path d="M807.3,473.9v-4.6M807.3,28.8v4.6M857.6,473.9v-8.3M857.6,28.8v8.3M907.8,473.9v-4.6M907.8,28.8v4.6M958.1,473.9v-8.3M958.1,28.8v8.3M1008.3,473.9v-4.6M1008.3,28.8v4.6M1058.5,473.9v-8.3M1058.5,28.8v8.3M1108.8,473.9v-4.6M1108.8,28.8v4.6M1159.0,473.9v-8.3M1159.0,28.8v8.3M1209.3,473.9v-4.6M1209.3,28.8v4.6M1259.5,473.9v-8.3M1259.5,28.8v8.3M757.1,429.4h4.6M1309.7,429.4h-4.6M757.1,384.9h8.3M1309.7,384.9h-8.3M757.1,340.4h4.6M1309.7,340.4h-4.6M757.1,295.8h8.3M1309.7,295.8h-8.3M757.1,251.3h4.6M1309.7,251.3h-4.6M757.1,206.8h8.3M1309.7,206.8h-8.3M757.1,162.3h4.6M1309.7,162.3h-4.6M757.1,117.8h8.3M1309.7,117.8h-8.3M757.1,73.3h4.6M1309.7,73.3h-4.6" stroke="#000" stroke-width="1.6" fill="none"/>
<text x="757.1" y="503.0" text-anchor="middle" font-size="24.3">0</text>
<text x="747.2" y="481.4" text-anchor="end" font-size="24.3">0</text>
<text x="857.6" y="503.0" text-anchor="middle" font-size="24.3">100</text>
<text x="747.2" y="392.4" text-anchor="end" font-size="24.3">100</text>
<text x="958.1" y="503.0" text-anchor="middle" font-size="24.3">200</text>
<text x="747.2" y="303.3" text-anchor="end" font-size="24.3">200</text>
<text x="1058.5" y="503.0" text-anchor="middle" font-size="24.3">300</text>
<text x="747.2" y="214.3" text-anchor="end" font-size="24.3">300</text>
<text x="1159.0" y="503.0" text-anchor="middle" font-size="24.3">400</text>
<text x="747.2" y="125.3" text-anchor="end" font-size="24.3">400</text>
<text x="1259.5" y="503.0" text-anchor="middle" font-size="24.3">500</text>
<text x="747.2" y="36.2" text-anchor="end" font-size="24.3">500</text>
<text x="976.3" y="98.0" text-anchor="middle" font-size="25.3" >CSL</text>
<text x="1135.5" y="70.5" text-anchor="middle" font-size="25.3" >FLL</text>
<text x="863.2" y="147.0" text-anchor="middle" font-size="25.3" >Potential</text>
<text x="859.8" y="179.0" text-anchor="middle" font-size="25.3" >liquefaction</text>
<text x="854.8" y="211.0" text-anchor="middle" font-size="25.3" >zone</text>
<text x="1247.0" y="219.0" text-anchor="middle" font-size="25.3" >Effective</text>
<text x="1241.5" y="251.0" text-anchor="middle" font-size="25.3" >stress</text>
<text x="1241.5" y="282.5" text-anchor="middle" font-size="25.3" >path</text>
<text x="1219.8" y="99.0" text-anchor="middle" font-size="29.8" font-weight="bold" font-style="italic">RVD=2.4%</text>
<text x="772.0" y="544.2" text-anchor="middle" font-size="29.5" font-weight="bold">(b)</text>
<text x="1033.3" y="547.3" text-anchor="middle" font-size="27.3" >Mean effective stress, <tspan font-weight="bold" font-style="italic">p′</tspan>(kPa)</text>
<text transform="translate(699,252.4) rotate(-90)" text-anchor="middle" font-size="27.2">Deviatoric stress, <tspan font-weight="bold" font-style="italic">q</tspan>(kPa)</text>
</svg>
</body></html>
